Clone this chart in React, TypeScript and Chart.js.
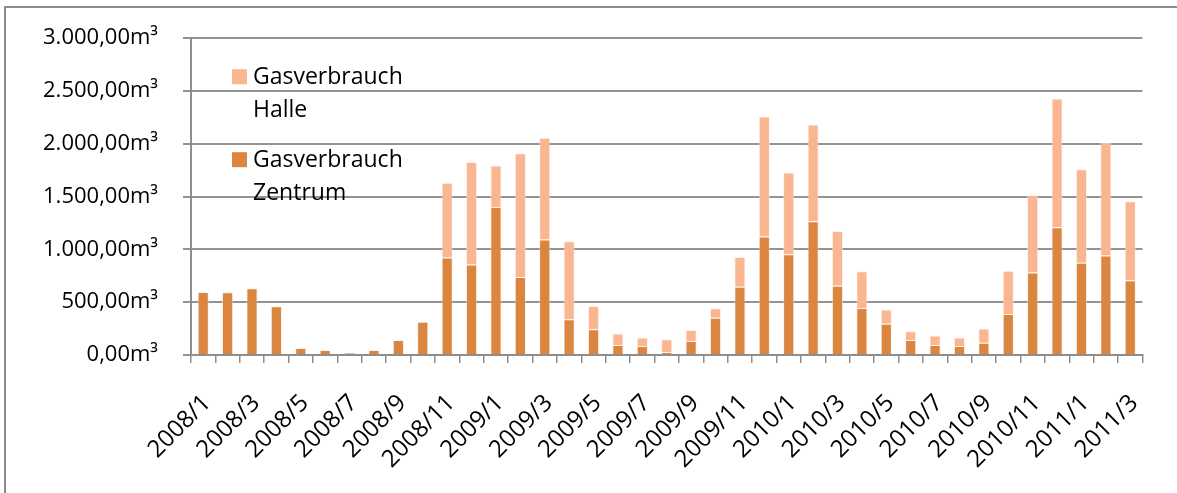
import React, { useEffect, useRef } from "react";
import { Chart, registerables } from "chart.js";

Chart.register(...registerables);

const months: string[] = [
  "2008/1", "2008/2", "2008/3", "2008/4", "2008/5", "2008/6", "2008/7", "2008/8", "2008/9", "2008/10", "2008/11", "2008/12",
  "2009/1", "2009/2", "2009/3", "2009/4", "2009/5", "2009/6", "2009/7", "2009/8", "2009/9", "2009/10", "2009/11", "2009/12",
  "2010/1", "2010/2", "2010/3", "2010/4", "2010/5", "2010/6", "2010/7", "2010/8", "2010/9", "2010/10", "2010/11", "2010/12",
  "2011/1", "2011/2", "2011/3",
];

const zentrum: number[] = [
  597, 594, 631, 462, 66, 47, 19, 47, 141, 314, 923, 858,
  1401, 738, 1093, 339, 245, 94, 85, 28, 132, 352, 647, 1121,
  955, 1266, 656, 446, 295, 141, 94, 85, 116, 389, 782, 1209,
  873, 942, 707,
];

const halle: number[] = [
  0, 0, 0, 0, 0, 0, 0, 0, 0, 0, 707, 970,
  393, 1172, 964, 738, 220, 110, 81, 120, 104, 91, 280, 1137,
  773, 917, 519, 346, 135, 85, 91, 81, 135, 409, 732, 1219,
  886, 1065, 750,
];

const seriesLabels: string[] = ["Gasverbrauch Zentrum", "Gasverbrauch Halle"];
const yTickValues: number[] = [0, 500, 1000, 1500, 2000, 2500, 3000];

const FONT = "'Open Sans', 'DejaVu Sans', sans-serif";
const DARK = "#DA8540";
const LIGHT = "#F9B690";

function formatDe(v: number): string {
  const fixed = v.toFixed(2);
  const [intPart, dec] = fixed.split(".");
  const withDots = intPart.replace(/\B(?=(\d{3})+(?!\d))/g, ".");
  return withDots + "," + dec + "m³";
}

const insideLegend = {
  id: "insideLegend",
  afterDraw(chart: any) {
    const { ctx, chartArea } = chart;
    const ds = chart.data.datasets.slice().reverse();
    ctx.save();
    ctx.font = `23px ${FONT}`;
    ctx.textBaseline = "alphabetic";
    ctx.textAlign = "left";
    let y = chartArea.top + 31;
    ds.forEach((d: any) => {
      ctx.fillStyle = d.backgroundColor;
      ctx.fillRect(chartArea.left + 41, y, 15, 15);
      ctx.fillStyle = "#000";
      const lines = String(d.label).split(" ");
      lines.forEach((ln: string, i: number) => {
        ctx.fillText(ln, chartArea.left + 62, y + 15 + i * 33);
      });
      y += 83;
    });
    ctx.restore();
  },
};

export default function App() {
  const ref = useRef<HTMLCanvasElement | null>(null);

  useEffect(() => {
    if (!ref.current) return;
    const chart = new Chart(ref.current, {
      type: "bar",
      data: {
        labels: months,
        datasets: [
          {
            label: seriesLabels[0],
            data: zentrum,
            backgroundColor: DARK,
            borderColor: "rgba(255,225,205,0.55)",
            borderWidth: 1,
            barPercentage: 0.46,
            categoryPercentage: 1,
          },
          {
            label: seriesLabels[1],
            data: halle,
            backgroundColor: LIGHT,
            borderColor: "rgba(255,235,220,0.6)",
            borderWidth: 1,
            barPercentage: 0.46,
            categoryPercentage: 1,
          },
        ],
      },
      options: {
        responsive: false,
        animation: false,
        layout: { padding: { top: 37, right: 30, left: 0, bottom: 0 } },
        plugins: {
          legend: { display: false },
          tooltip: { enabled: false },
        },
        scales: {
          x: {
            stacked: true,
            afterFit: (s: any) => {
              s.height = 138;
            },
            grid: {
              offset: true,
              drawOnChartArea: false,
              drawTicks: true,
              tickLength: 8,
              color: "#8e8e8e",
              lineWidth: 1.5,
            },
            border: { color: "#8e8e8e", width: 2 },
            ticks: {
              autoSkip: false,
              maxRotation: 45,
              minRotation: 45,
              labelOffset: 4,
              padding: 26,
              color: "#000",
              font: { family: FONT, size: 24 },
              callback: (_v: any, i: number) => (i % 2 === 0 ? months[i] : ""),
            },
          },
          y: {
            stacked: true,
            min: 0,
            max: 3000,
            afterFit: (s: any) => {
              s.width = 191;
            },
            afterBuildTicks: (s: any) => {
              s.ticks = yTickValues.map((v) => ({ value: v }));
            },
            grid: {
              color: "#939393",
              lineWidth: 2,
              tickLength: 8,
            },
            border: { color: "#8e8e8e", width: 2 },
            ticks: {
              padding: 25,
              color: "#000",
              font: { family: FONT, size: 22 },
              callback: (v: any) => formatDe(Number(v)),
            },
          },
        },
      },
      plugins: [insideLegend],
    });
    return () => chart.destroy();
  }, []);

  return (
    <>
      <div
        style={{
          position: "fixed",
          left: 4,
          top: 6,
          width: 1200,
          height: 520,
          border: "2px solid #8c8c8c",
          boxSizing: "border-box",
        }}
      />
      <canvas
        ref={ref}
        width={1177}
        height={493}
        style={{ position: "fixed", left: 0, top: 0, display: "block" }}
      />
    </>
  );
}
